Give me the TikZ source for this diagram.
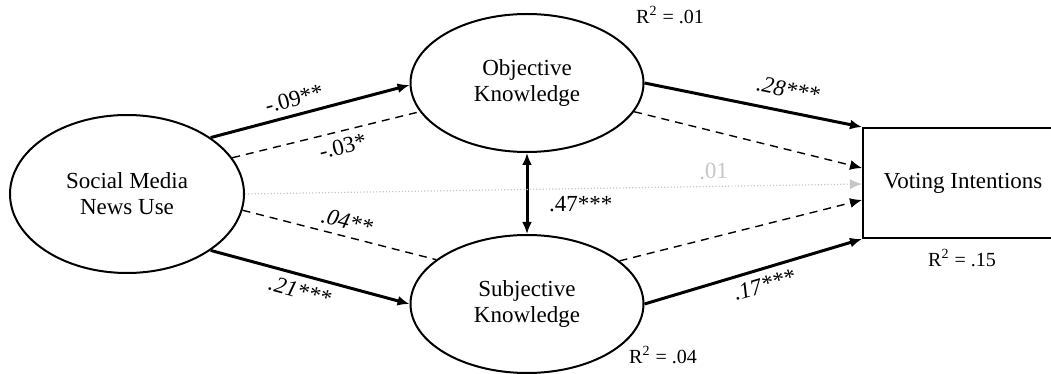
\documentclass[tikz,border=0pt]{standalone}
\usepackage{fontspec}
\setmainfont{Liberation Serif}
\usetikzlibrary{shapes.geometric}
\usetikzlibrary{arrows.meta}

\begin{document}
\begin{tikzpicture}[x=0.5pt, y=-0.5pt,
    font=\fontsize{11.5}{13}\selectfont,
    latent/.style={draw, ellipse, line width=1pt, inner sep=0pt, align=center},
    observed/.style={draw, rectangle, line width=1pt, inner sep=0pt},
    rsq/.style={font=\fontsize{10}{12}\selectfont},
    direct/.style={line width=1.5pt, -{Latex[length=6pt, width=5pt]}},
    indirect/.style={line width=0.7pt, dash pattern=on 4pt off 3pt},
    nodirect/.style={line width=0.6pt, gray!45, densely dotted, -{Latex[length=6pt, width=5pt]}},
    coef/.style={sloped, font=\fontsize{11.5}{13}\selectfont\itshape}]
\clip (0,0) rectangle (1051,374);

% constructs
\node[latent, minimum width=117pt, minimum height=79pt] (smnu) at (127,194) {Social Media\\News Use};
\node[latent, minimum width=116.5pt, minimum height=69pt] (objk) at (527,83) {Objective\\Knowledge};
\node[latent, minimum width=116.5pt, minimum height=69pt] (subk) at (527,304) {Subjective\\Knowledge};
\node[observed, minimum width=100pt, minimum height=55pt] (vote) at (963,183) {Voting Intentions};

% explained variance
\node[rsq] (r2objk) at (670,15) {R\textsuperscript{2} = .01};
\node[rsq] (r2subk) at (663,355) {R\textsuperscript{2} = .04};
\node[rsq] (r2vote) at (962,258) {R\textsuperscript{2} = .15};

% direct paths
\draw[direct] (smnu.34) -- node[coef, above, pos=0.44, font=\fontsize{11.5}{13}\selectfont]{-.09**} (objk.181);
\draw[direct] (smnu.-34) -- node[coef, below, pos=0.47]{.21***} (subk.180);
\draw[direct] (objk.0) -- node[coef, above=3pt, pos=0.64]{.28***} (vote.north west);
\draw[direct] (subk.0) -- node[coef, below, pos=0.53]{.17***} (vote.south west);
\draw[line width=1.5pt, {Latex[length=6pt, width=5pt]}-{Latex[length=6pt, width=5pt]}] (objk.270) -- node[right=7pt, pos=0.63]{.47***} (subk.90);

% indirect paths
\draw[indirect] (smnu.19) -- node[coef, below, pos=0.57, font=\fontsize{11.5}{13}\selectfont]{-.03*} (objk.195);
\draw[indirect] (smnu.-8) -- node[coef, above, pos=0.52]{.04**} (subk.154);
\draw[indirect, -{Latex[length=6pt, width=5pt]}] (objk.-15) -- ([yshift=7.5pt]vote.west);
\draw[indirect, -{Latex[length=6pt, width=5pt]}] (subk.25) -- ([yshift=-8.5pt]vote.west);
\draw[nodirect] (smnu.0) -- node[sloped, above, pos=0.76]{.01} ([yshift=-0.5pt]vote.west);
\end{tikzpicture}
\end{document}
